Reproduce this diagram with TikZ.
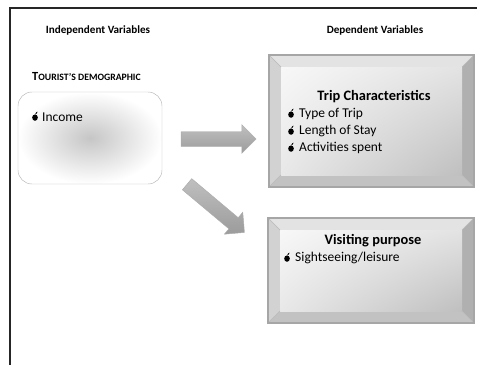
\documentclass[tikz,border=0pt]{standalone}
\usepackage{fontspec}
\setmainfont{Carlito}
\usetikzlibrary{positioning, shapes.arrows, shadings}

\tikzset{
  head/.style={font=\bfseries\fontsize{9.5}{11}\selectfont},
  title/.style={font=\bfseries\fontsize{12.3}{14}\selectfont},
  item/.style={anchor=west, inner sep=0pt, font=\fontsize{11.5}{14}\selectfont},
  blockarrow/.style={single arrow, draw=gray!65, top color=gray!50, bottom color=gray!78,
    minimum height=64pt, single arrow head extend=6pt, inner sep=6pt},
  apple/.pic={
    \fill (0pt,-0.5pt) ellipse (2.4pt and 2.7pt);
    \fill (0.1pt,2.2pt) .. controls (0.4pt,3.9pt) and (1.4pt,4.5pt) .. (2.2pt,4.5pt)
          .. controls (2pt,3.2pt) and (1pt,2.4pt) .. (0.1pt,2.2pt);
  }
}

\begin{document}
\begin{tikzpicture}[x=0.03cm, y=-0.03cm]
        \useasboundingbox (0,0) rectangle (477,365);

        % frame
        \draw[line width=1.6pt, black!85] (10,366) -- (10,8) -- (478,8);

        % headings
        \node[head] (indep) at (98,30) {Independent Variables};
        \node[head] (dep) at (375,30) {Dependent Variables};

        % tourist box
        \node[anchor=west, font=\bfseries\fontsize{10.6}{12}\selectfont, inner sep=0pt] (tourist) at (32,77)
          {T{\fontsize{8.3}{10}\selectfont OURIST'S DEMOGRAPHIC}};
        \draw[gray!55, rounded corners=12, inner color=gray!45, outer color=white]
          (18,92) rectangle (162,184);
        \node (demo) at (90,138) {};
        \pic at (35,117) {apple};
        \node[item] (income) at (42,117) {Income};

        % dependent boxes
        \foreach \nm/\xa/\ya/\xb/\yb in {trip/269/55/474/187, purp/268/218/474/323} {
          \fill[gray!22] (\xa,\ya) -- (\xb,\ya) -- (\xb-12,\ya+12) -- (\xa+12,\ya+12) -- cycle;
          \fill[gray!35] (\xa,\ya) -- (\xa+12,\ya+12) -- (\xa+12,\yb-12) -- (\xa,\yb) -- cycle;
          \fill[gray!62] (\xb,\ya) -- (\xb,\yb) -- (\xb-12,\yb-12) -- (\xb-12,\ya+12) -- cycle;
          \fill[gray!48] (\xa,\yb) -- (\xb,\yb) -- (\xb-12,\yb-12) -- (\xa+12,\yb-12) -- cycle;
          \shade[upper left=gray!6, upper right=gray!22, lower left=gray!18, lower right=gray!50]
            (\xa+12,\ya+12) rectangle (\xb-12,\yb-12);
          \draw[gray!55, thin] (\xa,\ya) -- (\xa+12,\ya+12) (\xb,\ya) -- (\xb-12,\ya+12)
            (\xa,\yb) -- (\xa+12,\yb-12) (\xb,\yb) -- (\xb-12,\yb-12);
          \draw[gray!70, line width=1pt] (\xa,\ya) rectangle (\xb,\yb);
          \node (\nm) at ({(\xa+\xb)/2},{(\ya+\yb)/2}) {};
        }

        \node[title] (tripttl) at (374,97) {Trip Characteristics};
        \foreach \y/\txt in {114/Type of Trip, 131/Length of Stay, 148/Activities spent} {
          \pic at (291,\y) {apple};
          \node[item] at (299,\y) {\txt};
        }

        \node[title] (purpttl) at (373,241) {Visiting purpose};
        \pic at (287,258) {apple};
        \node[item] (sight) at (295,258) {Sightseeing/leisure};

        % arrows
        \node[blockarrow] (arr1) at (215,139) {};
        \node[blockarrow, rotate=-40] (arr2) at (213,206) {};
      \end{tikzpicture}
\end{document}
